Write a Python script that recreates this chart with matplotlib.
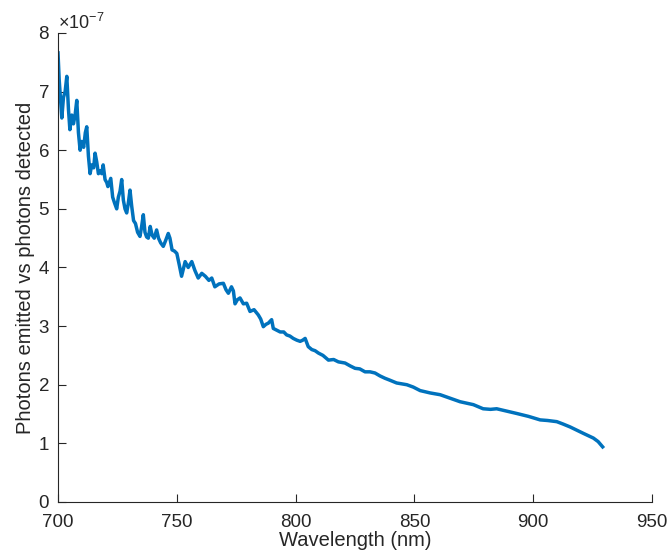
import numpy as np
import matplotlib.pyplot as plt
from matplotlib.ticker import ScalarFormatter

plt.rcParams['font.family'] = ['Liberation Sans', 'DejaVu Sans']
plt.rcParams['mathtext.fontset'] = 'custom'
plt.rcParams['mathtext.rm'] = 'Liberation Sans'

# wavelength (nm) and ratio (in units of 1e-7)
wavelength = [
    700, 700.5, 701, 701.6, 702.3, 703, 703.7, 704.4, 705, 705.8,
    706.5, 707.2, 707.9, 708.6, 709.3, 710, 710.8, 711.5, 712.1, 712.8,
    713.5, 714.2, 715, 715.6, 716.3, 717, 717.7, 718.4, 719, 719.8,
    720.5, 721, 721.6, 722.2, 723, 723.8, 724.7, 725.4, 726.1, 726.8,
    727.5, 728.2, 728.9, 729.6, 730.3, 731, 731.8, 732.6, 733.5, 734.5,
    735.2, 735.9, 736.6, 737.3, 738, 738.8, 739.6, 740.5, 741.5, 742.3,
    743.2, 744.3, 745.2, 746.4, 747.1, 748, 749, 750, 751, 752,
    753.5, 754.8, 756.3, 757.6, 759, 760.5, 762, 763.5, 764.7, 766,
    767.8, 769.6, 770.7, 771.7, 773, 773.8, 774.5, 775.5, 776.6, 778,
    779.4, 780.8, 782.5, 784.3, 785.3, 786.4, 787.5, 788.5, 789.9, 790.6,
    792, 793.5, 795, 796.2, 797.6, 799, 800.5, 801.9, 803, 804,
    805.3, 806.8, 808.2, 809.6, 811.5, 813.8, 816, 818, 820.8, 823,
    825, 827, 829.2, 831.3, 833.4, 835.5, 837.6, 839.5, 842.5, 846.8,
    849.5, 852.4, 856.6, 860.8, 865, 869.2, 874.8, 878.9, 882, 884.6,
    888.8, 893, 898, 902.9, 906, 909.9, 912.5, 915.5, 918.5, 921.1,
    923.2, 925.3, 927.3, 929.2,
]
ratio_e7 = [
    7.66, 7.2, 6.9, 6.55, 6.9, 7.0, 7.26, 6.7, 6.35, 6.6,
    6.45, 6.6, 6.85, 6.3, 6.0, 6.15, 6.05, 6.3, 6.4, 5.9,
    5.6, 5.75, 5.7, 5.95, 5.8, 5.6, 5.65, 5.6, 5.75, 5.5,
    5.45, 5.38, 5.45, 5.52, 5.2, 5.1, 5.0, 5.2, 5.3, 5.5,
    5.15, 5.0, 4.93, 5.1, 5.32, 5.05, 4.8, 4.75, 4.6, 4.53,
    4.7, 4.9, 4.6, 4.52, 4.5, 4.7, 4.55, 4.5, 4.64, 4.5,
    4.42, 4.36, 4.45, 4.58, 4.5, 4.3, 4.28, 4.24, 4.05, 3.85,
    4.1, 4.0, 4.1, 3.95, 3.82, 3.9, 3.85, 3.78, 3.82, 3.67,
    3.72, 3.73, 3.62, 3.56, 3.67, 3.6, 3.38, 3.45, 3.48, 3.38,
    3.39, 3.25, 3.28, 3.19, 3.12, 2.99, 3.03, 3.05, 3.11, 2.96,
    2.93, 2.9, 2.9, 2.85, 2.83, 2.79, 2.76, 2.74, 2.76, 2.79,
    2.65, 2.6, 2.58, 2.54, 2.5, 2.42, 2.43, 2.39, 2.37, 2.32,
    2.28, 2.27, 2.22, 2.22, 2.2, 2.15, 2.11, 2.08, 2.03, 2.0,
    1.96, 1.9, 1.86, 1.83, 1.77, 1.71, 1.66, 1.59, 1.58, 1.59,
    1.55, 1.51, 1.46, 1.40, 1.39, 1.37, 1.33, 1.28, 1.22, 1.17,
    1.13, 1.09, 1.03, 0.94,
]

ratio = np.array(ratio_e7) * 1e-7

fig = plt.figure(figsize=(6.69, 5.58), dpi=100)
ax = fig.add_axes([0.0867, 0.1004, 0.888, 0.8405])
ax.plot(wavelength, ratio, color='#0072BD', linewidth=2.5)

ax.set_xlim(700, 950)
ax.set_ylim(0, 8e-7)
ax.set_xticks(np.arange(700, 951, 50))
ax.set_yticks(np.arange(0, 8.1e-7, 1e-7))

fmt = ScalarFormatter(useMathText=True)
fmt.set_powerlimits((0, 0))
ax.yaxis.set_major_formatter(fmt)
ax.yaxis.get_offset_text().set_fontsize(13)
ax.yaxis.get_offset_text().set_color('#262626')

for side in ['top', 'right']:
    ax.spines[side].set_visible(False)
for side in ['left', 'bottom']:
    ax.spines[side].set_color('#262626')
    ax.spines[side].set_linewidth(0.8)
ax.tick_params(direction='in', length=6, width=0.8, colors='#262626',
               labelsize=13.5)
ax.tick_params(axis='x', pad=9)
ax.tick_params(axis='y', pad=6)

ax.set_xlabel('Wavelength (nm)', fontsize=14.5, color='#262626', labelpad=0)
ax.set_ylabel('Photons emitted vs photons detected', fontsize=14.5,
              color='#262626', labelpad=2)

fig.savefig('out.png', dpi=100)
